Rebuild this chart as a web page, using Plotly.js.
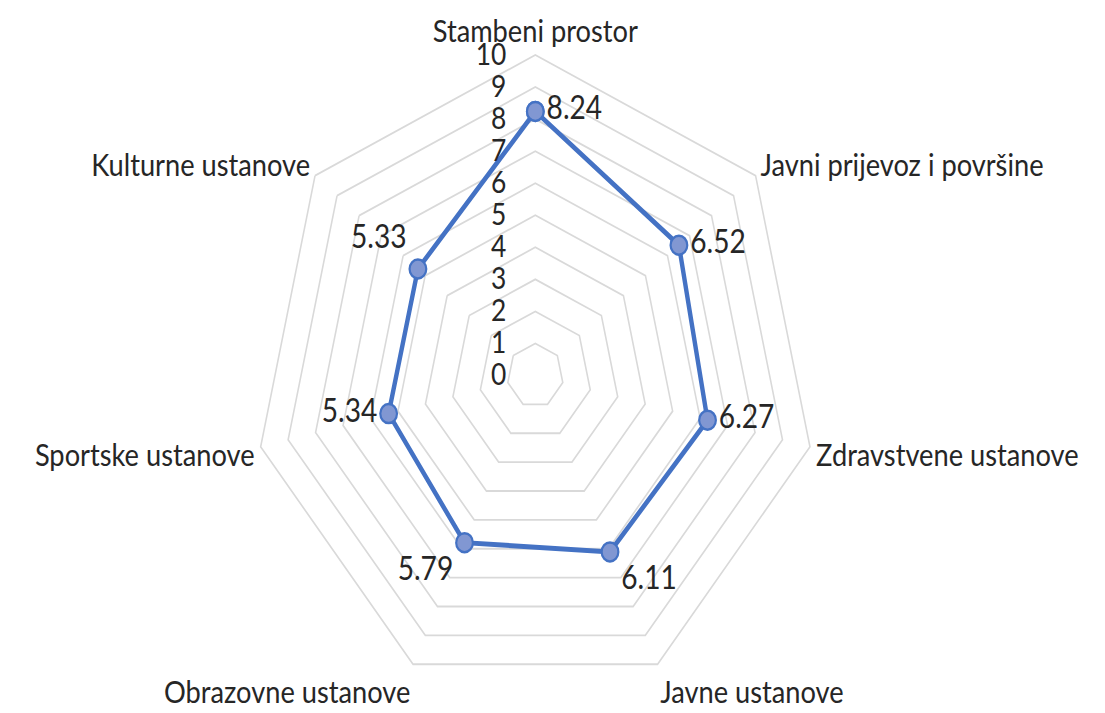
<!DOCTYPE html>
<html>
<head>
<meta charset="utf-8">
<script src="https://cdn.plot.ly/plotly-3.0.1.min.js"></script>
<style>
html,body{margin:0;padding:0;background:#fff;overflow:hidden;width:1105px;height:713px;}
#chart{width:1257px;height:713px;transform:scaleX(0.879);transform-origin:0 0;}
</style>
</head>
<body>
<div id="chart"></div>
<script>
const categories = ["Stambeni prostor", "Javni prijevoz i površine", "Zdravstvene ustanove", "Javne ustanove", "Obrazovne ustanove", "Sportske ustanove", "Kulturne ustanove"];
const values = [8.24, 6.52, 6.27, 6.11, 5.79, 5.34, 5.33];
const valueLabels = ["8.24", "6.52", "6.27", "6.11", "5.79", "5.34", "5.33"];
const labelPositions = ["middle right", "middle right", "middle right", "bottom right", "bottom left", "middle left", "top left"];
const radialTicks = [0, 1, 2, 3, 4, 5, 6, 7, 8, 9, 10];

const r = values.concat([values[0]]);
const theta = categories.concat([categories[0]]);
const text = valueLabels.concat([""]);
const tpos = labelPositions.concat([labelPositions[0]]);

const font = "Lato, 'Open Sans', sans-serif";
const txtColor = "#262626";
const trace = {
  type: "scatterpolar",
  mode: "lines+markers+text",
  r: r,
  theta: theta,
  text: text,
  textposition: tpos,
  textfont: {family: font, size: 32, color: txtColor},
  line: {color: "#4472C4", width: 5},
  marker: {size: 19, color: "#8197D2", line: {color: "#4472C4", width: 2.5}},
  cliponaxis: false,
  hoverinfo: "skip"
};

const layout = {
  width: 1257, height: 713,
  margin: {l: 0, r: 39, t: 55, b: 17},
  paper_bgcolor: "#fff",
  showlegend: false,
  font: {family: font, color: txtColor},
  polar: {
    bgcolor: "#fff",
    gridshape: "linear",
    domain: {x: [0, 1], y: [0, 1]},
    radialaxis: {
      range: [0, 10],
      tickmode: "array", tickvals: radialTicks, ticktext: radialTicks.map(String),
      angle: 90, side: "counterclockwise",
      showline: false,
      ticks: "outside", ticklen: 22, tickcolor: "rgba(0,0,0,0)",
      gridcolor: "#D9D9D9", gridwidth: 1.8,
      tickfont: {family: font, size: 30, color: txtColor},
      tickangle: 90
    },
    angularaxis: {
      direction: "clockwise", rotation: 90,
      showgrid: false, showline: true,
      linecolor: "#D9D9D9", linewidth: 1.8,
      ticks: "",
      tickfont: {family: font, size: 31, color: txtColor}
    }
  }
};

Plotly.newPlot("chart", [trace], layout, {displayModeBar: false, staticPlot: true});
</script>
</body>
</html>
